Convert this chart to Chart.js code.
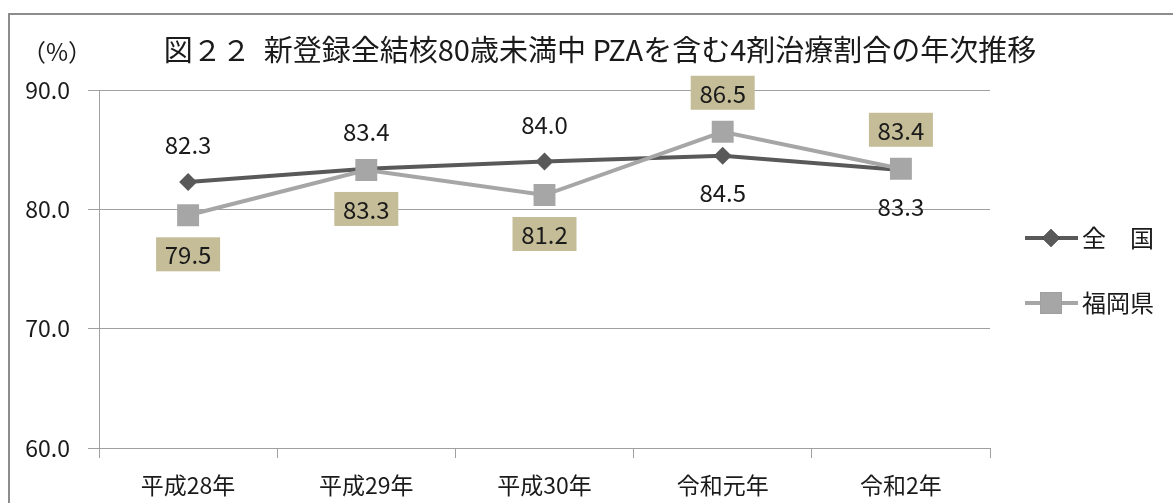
<!DOCTYPE html>
<html>
<head>
<meta charset="utf-8">
<script src="https://cdn.jsdelivr.net/npm/chart.js@4.4.1/dist/chart.umd.min.js"></script>
<style>
  html, body { margin: 0; padding: 0; background: #fff; }
  #wrap { position: relative; width: 1173px; height: 503px; overflow: hidden; }
  #frame { position: absolute; left: 8px; top: 13px; width: 1200px; height: 600px;
           border-left: 2px solid #8c8c8c; border-top: 2px solid #8c8c8c; }
  canvas { position: absolute; left: 0; top: 0; }
</style>
</head>
<body>
<div id="wrap">
  <div id="frame"></div>
  <canvas id="myChart" width="1173" height="503"></canvas>
</div>
<script>
// Chart data
// =======================================================
var years = ["平成28年", "平成29年", "平成30年", "令和元年", "令和2年"];
var zenkoku = [82.3, 83.4, 84.0, 84.5, 83.3];
var fukuoka = [79.5, 83.3, 81.2, 86.5, 83.4];
var seriesNames = ["全\u3000国", "福岡県"];
var yTicks = [60, 70, 80, 90];
var chartTitle = "図２２  新登録全結核80歳未満中 PZAを含む4剤治療割合の年次推移";

var FONT = "'Noto Sans CJK JP', 'Noto Sans', sans-serif";

// Draws title, value labels, the "(%)" unit and the legend
// =======================================================
var extras = {
    id: "extras",
    afterDatasetsDraw: function (chart) {
        var ctx = chart.ctx;
        ctx.save();
        ctx.textAlign = "center";
        ctx.textBaseline = "middle";
        ctx.fillStyle = "#1a1a1a";

        // title
        ctx.font = "29px " + FONT;
        ctx.fillText(chartTitle, 600, 50);

        // unit label
        ctx.font = "24px " + FONT;
        ctx.fillText("（%）", 57, 52);

        var m0 = chart.getDatasetMeta(0);
        var m1 = chart.getDatasetMeta(1);
        for (var i = 0; i < years.length; i++) {
            var p0 = m0.data[i], p1 = m1.data[i];
            var nUp = zenkoku[i] >= fukuoka[i];

            // national label, plain text
            var y0 = p0.y + (nUp ? -37 : 37);
            ctx.fillStyle = "#1a1a1a";
            ctx.fillText(zenkoku[i].toFixed(1), p0.x, y0);

            // fukuoka label, in a tan box
            var y1 = p1.y + (nUp ? 39 : -39);
            ctx.fillStyle = "#c4bd97";
            ctx.fillRect(p1.x - 32, y1 - 17, 64, 34);
            ctx.fillStyle = "#1a1a1a";
            ctx.fillText(fukuoka[i].toFixed(1), p1.x, y1 + 1);
        }

        // legend
        var rows = [{ y: 238, ds: chart.data.datasets[0] }, { y: 303, ds: chart.data.datasets[1] }];
        rows.forEach(function (r) {
            ctx.strokeStyle = r.ds.borderColor;
            ctx.lineWidth = 4;
            ctx.beginPath();
            ctx.moveTo(1025, r.y);
            ctx.lineTo(1078, r.y);
            ctx.stroke();
            Chart.helpers.drawPoint(ctx, {
                pointStyle: r.ds.pointStyle,
                radius: r.ds.pointRadius,
                borderWidth: 0
            }, 1051, r.y);
            ctx.fillStyle = r.ds.backgroundColor;
            ctx.fill();
            ctx.fillStyle = "#1a1a1a";
            ctx.textAlign = "left";
            ctx.fillText(r.ds.label, 1082, r.y);
        });
        ctx.restore();
    }
};

var ctx = document.getElementById("myChart");

var myChart = new Chart(ctx, {
    type: "line",
    data: {
        labels: years,
        datasets: [{
            label: seriesNames[0],
            data: zenkoku,
            order: 1,
            borderColor: "#595959",
            backgroundColor: "#595959",
            borderWidth: 4,
            pointStyle: "rectRot",
            pointRadius: 9,
            pointBorderWidth: 0,
            tension: 0
        }, {
            label: seriesNames[1],
            data: fukuoka,
            order: 0,
            borderColor: "#a6a6a6",
            backgroundColor: "#a6a6a6",
            borderWidth: 4,
            pointStyle: "rect",
            pointRadius: 15.5,
            pointBorderWidth: 0,
            tension: 0
        }]
    },
    options: {
        responsive: false,
        animation: false,
        events: [],
        layout: {
            padding: { left: 0, right: 183, top: 90, bottom: 0 }
        },
        plugins: {
            legend: { display: false },
            tooltip: { enabled: false },
            title: { display: false }
        },
        scales: {
            x: {
                offset: true,
                grid: {
                    offset: true,
                    drawOnChartArea: false,
                    drawTicks: true,
                    tickLength: 10,
                    color: "#a0a0a0"
                },
                border: { color: "#a0a0a0", width: 1 },
                ticks: {
                    color: "#1a1a1a",
                    font: { family: FONT, size: 23 },
                    padding: 13,
                    maxRotation: 0
                },
                afterFit: function (s) { s.height = 55; }
            },
            y: {
                min: yTicks[0],
                max: yTicks[yTicks.length - 1],
                afterBuildTicks: function (s) {
                    s.ticks = yTicks.map(function (v) { return { value: v }; });
                },
                grid: {
                    color: "#a0a0a0",
                    tickLength: 11,
                    drawTicks: true
                },
                border: { color: "#a0a0a0", width: 1 },
                ticks: {
                    color: "#1a1a1a",
                    font: { family: FONT, size: 23 },
                    padding: 18,
                    callback: function (v) { return Number(v).toFixed(1); }
                },
                afterFit: function (s) { s.width = 99; }
            }
        }
    },
    plugins: [extras]
});
</script>
</body>
</html>
